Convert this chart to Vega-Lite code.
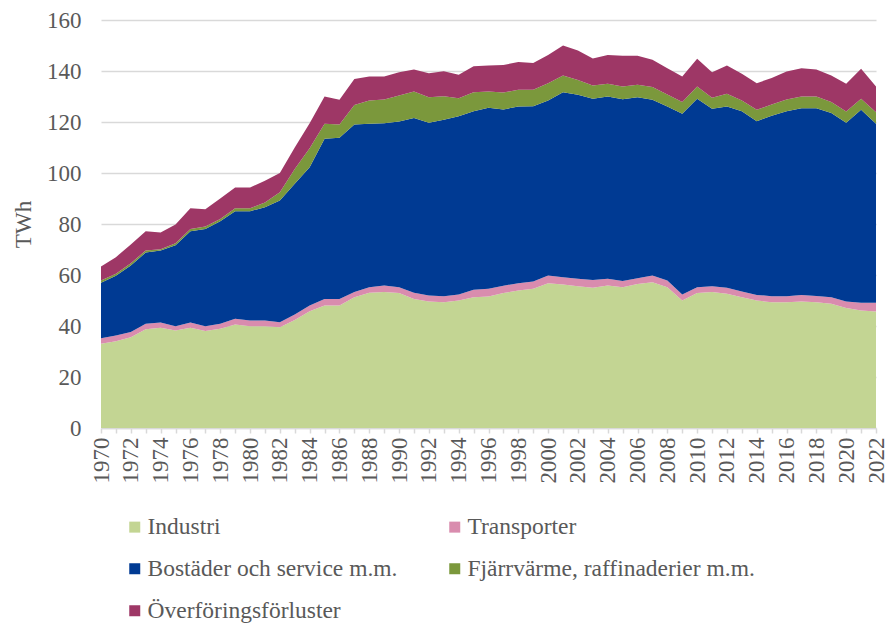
{
  "$schema": "https://vega.github.io/schema/vega-lite/v6.json",
  "width": 775,
  "height": 408,
  "autosize": {"type": "none"},
  "padding": {"left": 101, "top": 20, "right": 12, "bottom": 196},
  "data": {"values": [
    {"year":1970,"I":33,"T":2.2,"B":21.8,"F":0.8,"L":5.5},
    {"year":1971,"I":34,"T":2.3,"B":23.4,"F":0.8,"L":6.5},
    {"year":1972,"I":35.6,"T":2.0,"B":26.1,"F":0.9,"L":7.4},
    {"year":1973,"I":38.7,"T":2.2,"B":27.9,"F":0.8,"L":7.6},
    {"year":1974,"I":39.3,"T":2.1,"B":28.2,"F":0.5,"L":6.6},
    {"year":1975,"I":38.2,"T":1.7,"B":31.8,"F":0.8,"L":7.3},
    {"year":1976,"I":39.3,"T":2.1,"B":35.8,"F":0.8,"L":8.2},
    {"year":1977,"I":38,"T":1.9,"B":38.1,"F":1.0,"L":6.8},
    {"year":1978,"I":38.9,"T":2.0,"B":40.2,"F":0.9,"L":8},
    {"year":1979,"I":40.6,"T":2.2,"B":42.2,"F":1.2,"L":8.1},
    {"year":1980,"I":39.9,"T":2.3,"B":42.8,"F":1.2,"L":8.1},
    {"year":1981,"I":39.9,"T":2.3,"B":44.4,"F":1.8,"L":8.6},
    {"year":1982,"I":39.5,"T":2.0,"B":47.7,"F":3.3,"L":7.5},
    {"year":1983,"I":42.4,"T":2.1,"B":51.3,"F":5.8,"L":8.4},
    {"year":1984,"I":45.8,"T":2.2,"B":54.3,"F":7.4,"L":9.8},
    {"year":1985,"I":48,"T":2.6,"B":62.8,"F":5.9,"L":10.7},
    {"year":1986,"I":48,"T":2.6,"B":63.2,"F":5.2,"L":9.7},
    {"year":1987,"I":51.3,"T":2.0,"B":65.7,"F":7.7,"L":10.2},
    {"year":1988,"I":53,"T":2.2,"B":64.1,"F":9.1,"L":9.4},
    {"year":1989,"I":53.3,"T":2.6,"B":63.6,"F":9.3,"L":9},
    {"year":1990,"I":52.9,"T":2.3,"B":65,"F":10.2,"L":9.1},
    {"year":1991,"I":50.6,"T":2.4,"B":68.6,"F":10.4,"L":8.6},
    {"year":1992,"I":49.6,"T":2.4,"B":67.7,"F":10,"L":9.4},
    {"year":1993,"I":49.3,"T":2.4,"B":69.2,"F":9.2,"L":9.8},
    {"year":1994,"I":50,"T":2.4,"B":69.9,"F":7,"L":9.2},
    {"year":1995,"I":51.3,"T":2.9,"B":70,"F":7.5,"L":10.2},
    {"year":1996,"I":51.6,"T":3.0,"B":71,"F":6.4,"L":10.2},
    {"year":1997,"I":52.9,"T":2.9,"B":69.1,"F":6.7,"L":10.8},
    {"year":1998,"I":53.9,"T":2.9,"B":69.3,"F":6.5,"L":10.9},
    {"year":1999,"I":54.6,"T":2.9,"B":68.7,"F":6.4,"L":10.5},
    {"year":2000,"I":56.8,"T":3.0,"B":68.6,"F":6.8,"L":11.1},
    {"year":2001,"I":56.3,"T":2.8,"B":72.6,"F":6.5,"L":11.8},
    {"year":2002,"I":55.6,"T":2.9,"B":72.2,"F":5.8,"L":11.5},
    {"year":2003,"I":55,"T":3.0,"B":71.1,"F":5.2,"L":10.6},
    {"year":2004,"I":55.9,"T":2.6,"B":71.5,"F":5,"L":11.3},
    {"year":2005,"I":55.2,"T":2.4,"B":71.3,"F":5,"L":12.1},
    {"year":2006,"I":56.5,"T":2.2,"B":71,"F":4.9,"L":11.4},
    {"year":2007,"I":57.2,"T":2.6,"B":68.9,"F":5,"L":10.7},
    {"year":2008,"I":55.2,"T":2.6,"B":68.3,"F":4.7,"L":10.3},
    {"year":2009,"I":50,"T":2.4,"B":70.8,"F":4.6,"L":10},
    {"year":2010,"I":52.9,"T":2.3,"B":73.9,"F":4.8,"L":10.9},
    {"year":2011,"I":53.3,"T":2.3,"B":69.6,"F":4.3,"L":10},
    {"year":2012,"I":52.6,"T":2.4,"B":71.1,"F":5,"L":11.1},
    {"year":2013,"I":51.3,"T":2.2,"B":70.7,"F":4.2,"L":10.5},
    {"year":2014,"I":50,"T":2.2,"B":68.1,"F":4.5,"L":10.4},
    {"year":2015,"I":49.3,"T":2.4,"B":70.8,"F":4.4,"L":10.4},
    {"year":2016,"I":49.3,"T":2.4,"B":72.5,"F":4.6,"L":11},
    {"year":2017,"I":49.6,"T":2.6,"B":73.2,"F":4.6,"L":11.1},
    {"year":2018,"I":49.3,"T":2.5,"B":73.6,"F":4.6,"L":10.6},
    {"year":2019,"I":48.7,"T":2.6,"B":72.2,"F":4.3,"L":10.4},
    {"year":2020,"I":47.1,"T":2.5,"B":70.1,"F":4.4,"L":10.9},
    {"year":2021,"I":46.1,"T":3.0,"B":75.7,"F":4.3,"L":11.8},
    {"year":2022,"I":45.7,"T":3.4,"B":70.2,"F":4.5,"L":10.1}
  ]},
  "transform": [
    {"fold": ["I","T","B","F","L"], "as": ["key","v"]},
    {"lookup": "key", "from": {"data": {"values": [
      {"key":"I","serie":"Industri","k":1},
      {"key":"T","serie":"Transporter","k":2},
      {"key":"B","serie":"Bostäder och service m.m.","k":3},
      {"key":"F","serie":"Fjärrvärme, raffinaderier m.m.","k":4},
      {"key":"L","serie":"Överföringsförluster","k":5}
    ]}, "key": "key", "fields": ["serie","k"]}}
  ],
  "mark": {"type": "area", "interpolate": "linear"},
  "encoding": {
    "x": {
      "field": "year", "type": "quantitative",
      "scale": {"domain": [1970, 2022], "nice": false, "zero": false},
      "axis": {
        "title": null,
        "values": [1970,1971,1972,1973,1974,1975,1976,1977,1978,1979,1980,1981,1982,1983,1984,1985,1986,1987,1988,1989,1990,1991,1992,1993,1994,1995,1996,1997,1998,1999,2000,2001,2002,2003,2004,2005,2006,2007,2008,2009,2010,2011,2012,2013,2014,2015,2016,2017,2018,2019,2020,2021,2022],
        "format": "d",
        "labelExpr": "datum.value % 2 === 0 ? datum.label : ''",
        "labelAngle": 270, "labelAlign": "right", "labelBaseline": "middle",
        "labelOverlap": false, "labelFlush": false,
        "labelPadding": 4,
        "grid": false,
        "ticks": true, "tickSize": 5, "tickColor": "#d9d9d9", "tickWidth": 1.5,
        "domain": true, "domainColor": "#d9d9d9", "domainWidth": 1.5
      }
    },
    "y": {
      "field": "v", "type": "quantitative", "stack": "zero",
      "scale": {"domain": [0, 160], "nice": false},
      "axis": {
        "values": [0,20,40,60,80,100,120,140,160],
        "grid": true, "gridColor": "#d9d9d9", "gridWidth": 1.5,
        "ticks": false, "domain": false,
        "labelPadding": 20,
        "title": "TWh", "titleAngle": -90, "titleX": -78, "titleY": 204,
        "titleAlign": "center", "titleBaseline": "middle",
        "titleFontSize": 23, "titleFontWeight": "normal", "titleColor": "#595959"
      }
    },
    "color": {
      "field": "serie", "type": "nominal",
      "scale": {
        "domain": ["Industri","Transporter","Bostäder och service m.m.","Fjärrvärme, raffinaderier m.m.","Överföringsförluster"],
        "range": ["#c3d593","#d98cae","#003a93","#7b983c","#9e3766"]
      },
      "legend": {
        "title": null, "orient": "none", "legendX": 22, "legendY": 495,
        "direction": "horizontal",
        "columns": 2, "columnPadding": 45, "rowPadding": 17,
        "symbolType": "square", "symbolSize": 121, "symbolStrokeWidth": 0,
        "labelFontSize": 23.5, "labelColor": "#595959", "labelOffset": 1,
        "padding": 0
      }
    },
    "order": {"field": "k", "type": "quantitative", "sort": "ascending"}
  },
  "config": {
    "font": "Liberation Serif, Times New Roman, serif",
    "view": {"stroke": null},
    "axis": {"labelFont": "Liberation Serif, Times New Roman, serif", "labelFontSize": 23, "labelColor": "#595959", "titleFont": "Liberation Serif, Times New Roman, serif"},
    "legend": {"labelFont": "Liberation Serif, Times New Roman, serif", "labelLimit": 400}
  }
}
